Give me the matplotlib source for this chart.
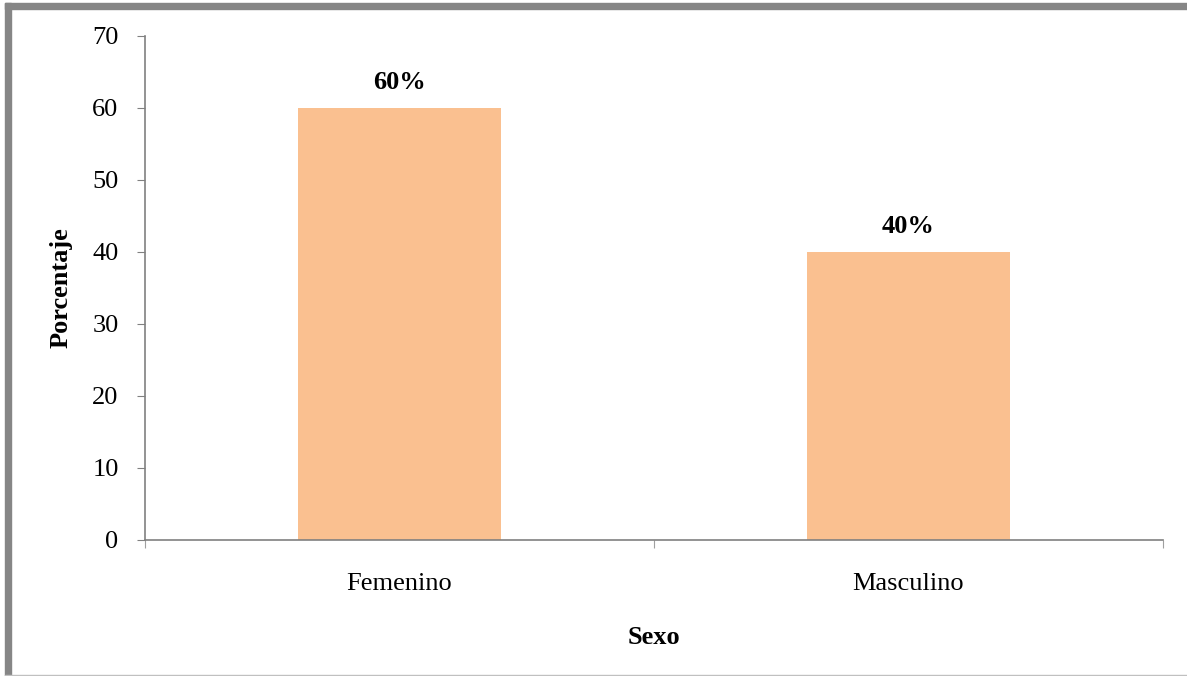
import matplotlib.pyplot as plt
from matplotlib.patches import Rectangle

categories = ['Femenino', 'Masculino']
values = [60, 40]
labels = ['60%', '40%']

plt.rcParams['font.family'] = ['Liberation Serif', 'DejaVu Serif']

fig = plt.figure(figsize=(11.87, 6.76), dpi=100)
W, H = 1187, 676
ax = fig.add_axes([145 / W, (H - 540) / H, (1163 - 145) / W, (540 - 36) / H])

x = range(len(categories))
ax.bar(x, values, width=0.4, color='#FAC090', zorder=2)
for xi, v, lab in zip(x, values, labels):
    ax.text(xi, v + 2.0, lab, ha='center', va='bottom', fontsize=19, fontweight='bold')

ax.set_xlim(-0.5, 1.5)
ax.set_ylim(0, 70)
ax.set_yticks(range(0, 71, 10))
ax.set_xticks([-0.5, 0.5, 1.5])
ax.set_xticklabels([])
ax.set_xticks(list(x), minor=True)
ax.set_xticklabels(categories, minor=True, fontsize=19)
ax.tick_params(axis='x', which='minor', length=0, pad=24)
ax.tick_params(axis='x', which='major', length=6, color='#a0a0a0')
ax.tick_params(axis='y', length=6, color='#808080', labelsize=19, pad=13)

for s in ['top', 'right']:
    ax.spines[s].set_visible(False)
for s in ['left', 'bottom']:
    ax.spines[s].set_color('#808080')
    ax.spines[s].set_linewidth(1.2)

ax.set_xlabel('Sexo', fontsize=19, fontweight='bold', labelpad=22)
ax.set_ylabel('Porcentaje', fontsize=19, fontweight='bold', labelpad=14)

# frame around the chart
fig.patches.append(Rectangle((5 / W, 0), 6 / W, (H - 3) / H, transform=fig.transFigure,
                             color='#868686', zorder=0))
fig.patches.append(Rectangle((5 / W, (H - 9) / H), (W - 5) / W, 6 / H, transform=fig.transFigure,
                             color='#868686', zorder=0))
fig.patches.append(Rectangle((5 / W, 0), (W - 5) / W, 1.5 / H, transform=fig.transFigure,
                             color='#c0c0c0', zorder=0))

fig.savefig('out.png', dpi=100)
